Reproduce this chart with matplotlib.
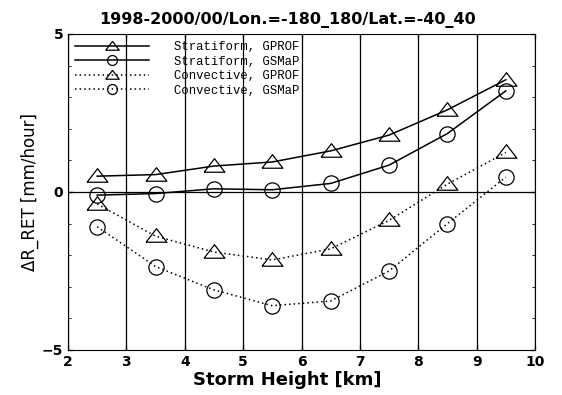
import matplotlib
matplotlib.use("Agg")
import matplotlib.pyplot as plt
from matplotlib.ticker import MultipleLocator

# storm height bins [km]
height = [2.5, 3.5, 4.5, 5.5, 6.5, 7.5, 8.5, 9.5]

# delta R_RET [mm/hour]
strat_gprof = [0.5, 0.55, 0.82, 0.95, 1.3, 1.8, 2.6, 3.55]
strat_gsmap = [-0.1, -0.05, 0.1, 0.07, 0.27, 0.85, 1.85, 3.2]
conv_gprof = [-0.38, -1.4, -1.9, -2.15, -1.8, -0.9, 0.25, 1.25]
conv_gsmap = [-1.1, -2.36, -3.1, -3.6, -3.45, -2.5, -1.0, 0.47]

# flat, wide triangle like the original plot
tri = [(-1, -0.55), (1, -0.55), (0, 0.75), (-1, -0.55)]

fig = plt.figure(figsize=(5.62, 3.95), dpi=100)
ax = fig.add_axes([0.121, 0.114, 0.831, 0.8])

mk = dict(color='black', markerfacecolor='none', markeredgecolor='black',
          markeredgewidth=0.9, linewidth=1.1)
dots = (0, (1, 2))
ax.plot(height, strat_gprof, linestyle='-', marker=tri, markersize=15, label='Stratiform, GPROF', **mk)
ax.plot(height, strat_gsmap, linestyle='-', marker='o', markersize=11, label='Stratiform, GSMaP', **mk)
ax.plot(height, conv_gprof, linestyle=dots, marker=tri, markersize=15, label='Convective, GPROF', **mk)
ax.plot(height, conv_gsmap, linestyle=dots, marker='o', markersize=11, label='Convective, GSMaP', **mk)

ax.set_xlim(2, 10)
ax.set_ylim(-5, 5)
ax.xaxis.set_major_locator(MultipleLocator(1))
ax.yaxis.set_major_locator(MultipleLocator(5))
ax.yaxis.set_minor_locator(MultipleLocator(1))
ax.grid(True, axis='x', color='black', linewidth=0.9)
ax.axhline(0, color='black', linewidth=0.9)
ax.tick_params(direction='in', top=True, right=True, labelsize=10, width=0.9)
ax.tick_params(which='minor', direction='in', left=True, right=True, length=2)
for lab in ax.get_xticklabels() + ax.get_yticklabels():
    lab.set_fontweight('bold')

ax.text(0.47, 1.02, '1998-2000/00/Lon.=-180_180/Lat.=-40_40', transform=ax.transAxes,
        ha='center', va='bottom', fontsize=11.5, fontweight='bold')
ax.set_xlabel('Storm Height [km]', fontsize=13, fontweight='bold', labelpad=0)
ax.xaxis.set_label_coords(0.47, -0.065, transform=ax.transAxes)
ax.xaxis.label.set_va('top')
ax.set_ylabel('ΔR_RET [mm/hour]', fontsize=12, labelpad=2)

ax.legend(loc='upper left', frameon=False, prop={'family': 'Liberation Mono', 'size': 8.8},
          handlelength=6, borderaxespad=0.1, borderpad=0.5, labelspacing=0.2,
          handletextpad=2.1, markerscale=0.65)

plt.savefig('out.png', dpi=100)
